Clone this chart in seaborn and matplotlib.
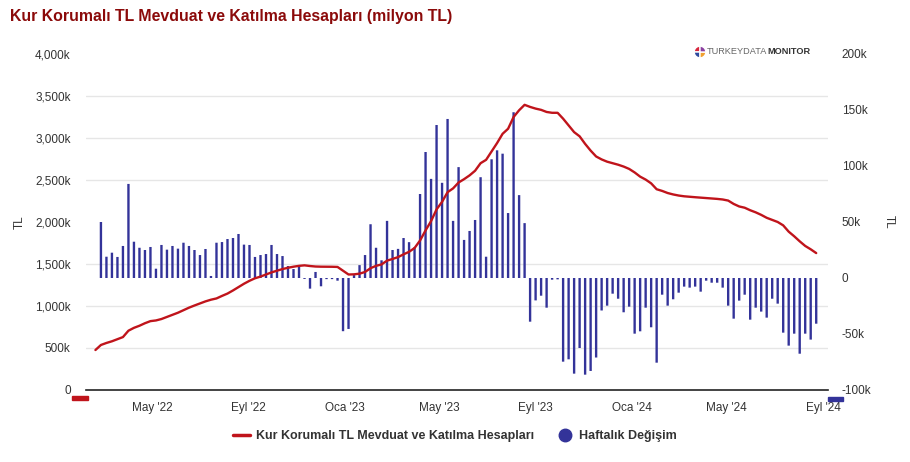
import numpy as np
import pandas as pd
import matplotlib
matplotlib.use("Agg")
import matplotlib.pyplot as plt
import seaborn as sns
from matplotlib.lines import Line2D
from matplotlib.patches import Rectangle
from matplotlib.ticker import FuncFormatter

sns.set_style("white")
plt.rcParams['font.family'] = ['Liberation Sans', 'DejaVu Sans']

# weekly data, fridays
line_dates = pd.date_range('2022-02-18', '2024-08-23', freq='7D')
bar_dates = line_dates[1:]

# KKM stock, thousand mn TL
kkm = [476, 536, 560, 580, 605, 630, 706, 740, 765, 795,
       820, 828, 845, 870, 895, 920, 950, 980, 1006, 1030,
       1055, 1075, 1090, 1120, 1148, 1185, 1225, 1265, 1300, 1330,
       1350, 1375, 1400, 1420, 1440, 1455, 1468, 1478, 1484, 1476,
       1470, 1468, 1468, 1467, 1465, 1420, 1375, 1377, 1385, 1405,
       1450, 1478, 1495, 1540, 1560, 1582, 1615, 1645, 1690, 1780,
       1900, 2010, 2150, 2240, 2355, 2400, 2470, 2510, 2555, 2610,
       2700, 2740, 2840, 2940, 3050, 3110, 3250, 3330, 3395, 3370,
       3350, 3335, 3310, 3300, 3300, 3230, 3150, 3070, 3020, 2930,
       2850, 2780, 2745, 2718, 2700, 2682, 2660, 2632, 2590, 2540,
       2505, 2460, 2390, 2370, 2345, 2328, 2315, 2306, 2300, 2295,
       2290, 2285, 2280, 2275, 2268, 2255, 2215, 2185, 2170, 2140,
       2115, 2085, 2050, 2025, 2000, 1960, 1885, 1830, 1770, 1715,
       1675, 1630]

# weekly change, thousand mn TL
weekly_change = [50, 19, 22.6, 18.8, 28.6, 84, 32.4, 27, 25, 27.7,
                 8.3, 29.5, 25.3, 28.6, 26.2, 31.5, 28.6, 25, 20.5, 25.9,
                 1.8, 31.5, 32.1, 34.8, 35.7, 39.3, 29.8, 29.5, 18.8, 20.5,
                 21.4, 29.5, 21.4, 19.6, 10.7, 8, 10.7, -0.8, -9.5, 5.4,
                 -7.4, -1, -1, -2.4, -47.5, -45.5, 2.6, 11.5, 20.5, 48,
                 27, 15.8, 51, 25, 26, 35.7, 32, 27.5, 75, 112.5,
                 88.5, 136.6, 85, 142, 51, 99, 34, 42, 51.8, 90,
                 19, 106, 114, 111, 58, 148, 74, 49, -39, -20,
                 -15.8, -26.5, -1.5, -1.2, -74.7, -72.6, -85.4, -62.5, -86.3, -83,
                 -71, -29, -24.7, -14, -18.5, -30.6, -25.6, -49.7, -47.6, -26.5,
                 -44, -75.6, -14.9, -24.7, -19, -13.1, -7.7, -8.6, -7.7, -12.2,
                 -2.4, -4.2, -4.2, -8.6, -24.7, -36.3, -20.2, -14.9, -37.2, -26.5,
                 -30, -35.4, -18.5, -22.9, -48.8, -60.4, -49.7, -67.6, -49.7, -55,
                 -40.8]

xtick_dates = ['2022-05-01', '2022-09-01', '2023-01-01', '2023-05-01',
               '2023-09-01', '2024-01-01', '2024-05-01', '2024-09-01']
xtick_labels = ["May '22", "Eyl '22", "Oca '23", "May '23",
                "Eyl '23", "Oca '24", "May '24", "Eyl '24"]

RED = '#c0141b'
NAVY = '#333399'
TXT = '#333333'

W, H = 910, 462
fig = plt.figure(figsize=(W / 100, H / 100), dpi=100)
ax_bar = fig.add_axes([86 / W, 1 - 390 / H, (828 - 86) / W, (390 - 54) / H])
ax_line = ax_bar.twinx()

bars = ax_bar.bar(bar_dates, weekly_change, width=3.0, color=NAVY, linewidth=0, zorder=3)
for b in bars:
    b.set_snap(False)
sns.lineplot(x=line_dates, y=kkm, ax=ax_line, color=RED, linewidth=1.7)

ax_bar.set_xlim(pd.Timestamp('2022-02-06'), pd.Timestamp('2024-09-07'))
ax_bar.set_ylim(-100, 200)
ax_line.set_ylim(0, 4000)

# bars axis -> right side, line axis -> left side
ax_bar.yaxis.tick_right()
ax_line.yaxis.tick_left()
ax_bar.set_yticks([-100, -50, 0, 50, 100, 150, 200])
ax_line.set_yticks(np.arange(0, 4001, 500))
ax_bar.yaxis.set_major_formatter(FuncFormatter(lambda v, p: '0' if v == 0 else f'{int(v)}k'))
ax_line.yaxis.set_major_formatter(FuncFormatter(lambda v, p: '0' if v == 0 else f'{int(v):,}k'))
ax_bar.tick_params(axis='y', length=0, pad=10, labelsize=8.5, labelcolor=TXT)
ax_line.tick_params(axis='y', length=0, pad=11, labelsize=8.5, labelcolor=TXT)
ax_line.set_ylabel('')
ax_line.set_xlabel('')

# horizontal grid lines sit behind the bars, aligned to the left ticks
ax_bar.set_yticks(np.linspace(-100, 200, 9), minor=True)
ax_bar.tick_params(axis='y', which='minor', length=0)
ax_bar.grid(axis='y', which='minor', color='#e6e6e6', linewidth=1, zorder=0)
ax_bar.grid(axis='y', which='major', visible=False)

ax_bar.set_xticks(pd.to_datetime(xtick_dates))
ax_bar.set_xticklabels(xtick_labels)
ax_bar.tick_params(axis='x', length=6, color='#ccd6eb', labelsize=8.5, labelcolor=TXT, pad=9)
for lab in ax_bar.get_xticklabels():
    lab.set_verticalalignment('baseline')

for a in (ax_bar, ax_line):
    for s in a.spines.values():
        s.set_visible(False)
ax_bar.spines['bottom'].set_visible(True)
ax_bar.spines['bottom'].set_color('#222222')
ax_bar.spines['bottom'].set_linewidth(1.2)

# title, axis titles
fig.text(10 / W, 1 - 16 / H, 'Kur Korumalı TL Mevduat ve Katılma Hesapları (milyon TL)',
         fontsize=11.4, fontweight='bold', color='#8b0a0a', va='center', ha='left')
fig.text(20 / W, 1 - 222 / H, 'TL', rotation=90, fontsize=8.5, color=TXT, ha='center', va='center')
fig.text(889 / W, 1 - 222 / H, 'TL', rotation=270, fontsize=8.5, color=TXT, ha='center', va='center')

# watermark
t1 = fig.text(707 / W, 1 - 52 / H, 'TURKEYDATA', fontsize=6.6, color='#666666', va='center', ha='left')
ax_line.annotate('MONITOR', xy=(1, 0.5), xycoords=t1, fontsize=6.6, fontweight='bold',
                 color='#333333', va='center', ha='left')
logo = fig.add_axes([694 / W, 1 - 58 / H, 12 / W, 12 / H])
logo.pie([1, 1, 1, 1], colors=['#d7263d', '#2e4a9e', '#f0a030', '#8a3fa0'], startangle=90, radius=1)
logo.set_xlim(-1.02, 1.02)
logo.set_ylim(-1.02, 1.02)
logo.set_aspect('equal')

# axis colour markers
fig.add_artist(Rectangle((72 / W, 1 - 400 / H), 16 / W, 4 / H, transform=fig.transFigure, color=RED))
fig.add_artist(Rectangle((828 / W, 1 - 401 / H), 15 / W, 4 / H, transform=fig.transFigure, color=NAVY))

handles = [Line2D([0], [0], color=RED, lw=2.5),
           Line2D([0], [0], color=NAVY, marker='o', linestyle='', markersize=9)]
fig.legend(handles, ['Kur Korumalı TL Mevduat ve Katılma Hesapları', 'Haftalık Değişim'],
           loc='center', bbox_to_anchor=(0.5, 1 - 436 / H), ncol=2, frameon=False,
           prop={'weight': 'bold', 'size': 9}, labelcolor=TXT, handlelength=1.3,
           columnspacing=1.8, handletextpad=0.5)

fig.savefig('out.png', dpi=100)
